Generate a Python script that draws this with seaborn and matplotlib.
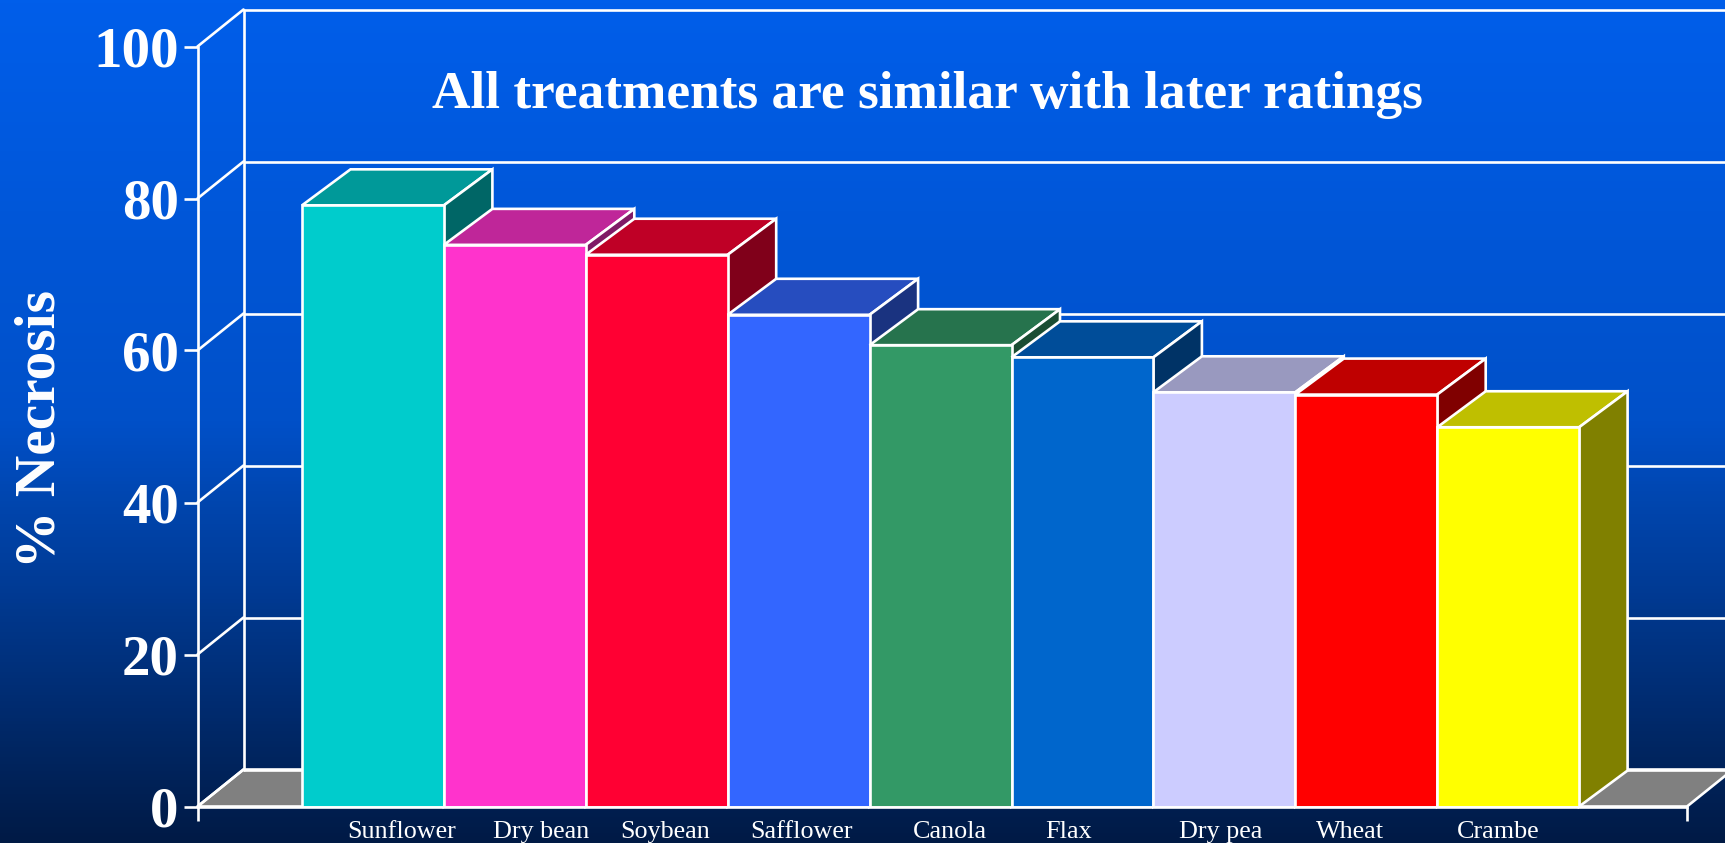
import numpy as np
import matplotlib
matplotlib.use("Agg")
import matplotlib.pyplot as plt
from matplotlib.colors import LinearSegmentedColormap, to_rgb
import seaborn as sns

crops = ["Sunflower", "Dry bean", "Soybean", "Safflower", "Canola", "Flax", "Dry pea", "Wheat", "Crambe"]
necrosis = [79.1, 73.9, 72.6, 64.7, 60.7, 59.1, 54.5, 54.2, 49.9]
front_colors = ["#00CCCC", "#FF33CC", "#FF0033", "#3366FF", "#339966", "#0066CC", "#CCCCFF", "#FF0000", "#FFFF00"]
label_shift_px = [29, 26, 8, 3, 9, -14, -4, -16, -10]
y_ticks = [0, 20, 40, 60, 80, 100]

W, H, DPI = 1725, 843, 100
SERIF = "Liberation Serif"
LW = 1.9

sns.set_theme(style="white", rc={"font.family": SERIF})
fig = plt.figure(figsize=(W / DPI, H / DPI), dpi=DPI)

# Vertical blue gradient behind everything
bg = fig.add_axes([0, 0, 1, 1], zorder=0)
bg.axis("off")
gradient = np.linspace(0, 1, 256).reshape(-1, 1)
ramp = LinearSegmentedColormap.from_list("deck", ["#005EEA", "#0050C8", "#001A45"])
bg.imshow(gradient, aspect="auto", cmap=ramp, extent=[0, 1, 0, 1], origin="upper")

# Plot frame: front-left axis at x=197.5, baseline at y=806.5, value 100 at y=46.5
left, right, base, top = 197.5, 1687, 806.5, 46.5
ax = fig.add_axes([left / W, (H - base) / H, (right - left) / W, (base - top) / H], zorder=1)
ax.patch.set_alpha(0)

sns.barplot(x=crops, y=necrosis, hue=crops, palette=front_colors, saturation=1, width=1.0,
            edgecolor="white", linewidth=LW, legend=False, dodge=False, ax=ax)

bar_px = 141.9
x_min = -0.5 - (302 - left) / bar_px
x_max = x_min + (right - left) / bar_px
ax.set_xlim(x_min, x_max)
ax.set_ylim(0, 100)
px_per_unit = (base - top) / 100

# Oblique offset of the walls and of the bar depth
wall_dx, wall_dy = 46 / bar_px, 37 / px_per_unit
bar_dx, bar_dy = 48.5 / bar_px, 36 / px_per_unit
page_right = x_min + (W - left) / bar_px

# Floor, back wall and gridlines
ax.fill([x_min, x_min + wall_dx, x_max + wall_dx, x_max], [0, wall_dy, wall_dy, 0],
        facecolor="#808080", edgecolor="white", linewidth=LW, clip_on=False, zorder=1)
for v in y_ticks:
    ax.plot([x_min, x_min + wall_dx], [v, v + wall_dy], color="white", lw=LW, clip_on=False, zorder=1.5)
    ax.plot([x_min + wall_dx, page_right], [v + wall_dy] * 2, color="white", lw=LW, clip_on=False, zorder=1.5)
ax.plot([x_min + wall_dx] * 2, [wall_dy, 100 + wall_dy], color="white", lw=LW, clip_on=False, zorder=1.5)


def shade(color, factor):
    return tuple(c * factor for c in to_rgb(color))


# Each bar gets a lit top and a dark side; later bars sit in front of earlier ones
for i, (bar, value, color) in enumerate(zip(ax.patches, necrosis, front_colors)):
    z = 3 + i
    bar.set_zorder(z + 0.5)
    x0, x1 = i - 0.5, i + 0.5
    ax.fill([x0, x1, x1 + bar_dx, x0 + bar_dx], [value, value, value + bar_dy, value + bar_dy],
            facecolor=shade(color, 0.75), edgecolor="white", linewidth=LW, clip_on=False, zorder=z)
    ax.fill([x1, x1 + bar_dx, x1 + bar_dx, x1], [0, bar_dy, value + bar_dy, value],
            facecolor=shade(color, 0.5), edgecolor="white", linewidth=LW, clip_on=False, zorder=z)

# Axis lines and ticks
for name in ("top", "right"):
    ax.spines[name].set_visible(False)
for name in ("left", "bottom"):
    ax.spines[name].set_color("white")
    ax.spines[name].set_linewidth(LW)
    ax.spines[name].set_zorder(20)
ax.set_yticks(y_ticks)
ax.set_yticklabels([str(v) for v in y_ticks], fontsize=41, fontweight="bold", color="white", family=SERIF)
ax.tick_params(axis="y", length=10, width=LW, color="white", pad=3.5, left=True)
ax.set_xticks([x_min, x_max])
ax.set_xticklabels([])
ax.tick_params(axis="x", length=10, width=LW, color="white", bottom=True)
ax.set_xlabel("")

# Crop names sit below the baseline, each nudged sideways from its bar centre
for i, (name, shift) in enumerate(zip(crops, label_shift_px)):
    ax.annotate(name, xy=(i, 0), xycoords="data", xytext=(shift * 72 / DPI, -25.5 * 72 / DPI),
                textcoords="offset points", ha="center", va="center", color="white",
                fontsize=18.8, family=SERIF, annotation_clip=False)

fig.text(927 / W, 1 - 95 / H, "All treatments are similar with later ratings", ha="center", va="center",
         color="white", fontsize=38.4, fontweight="bold", family=SERIF, zorder=5)
fig.text(40.5 / W, 1 - 429 / H, "% Necrosis", rotation=90, ha="center", va="center",
         color="white", fontsize=41.3, fontweight="bold", family=SERIF, zorder=5)

fig.savefig("out.png", dpi=DPI)
